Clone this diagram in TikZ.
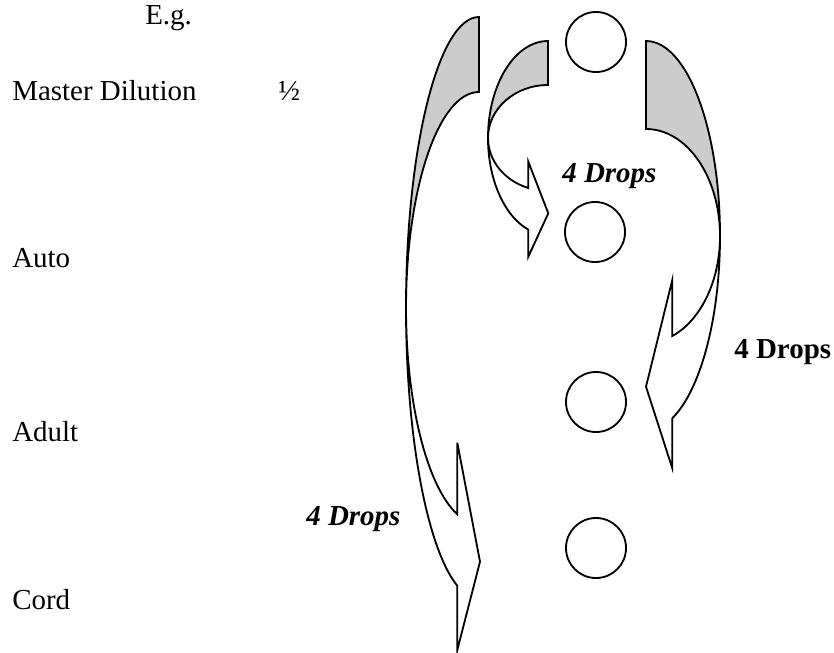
\documentclass[tikz,border=0pt]{standalone}
\usepackage{fontspec}
\setmainfont{Liberation Serif}

\begin{document}
\begin{tikzpicture}[x=0.025cm, y=-0.025cm, font=\fontsize{20.6}{24}\selectfont,
	word/.style={anchor=base west, inner sep=0pt},
	drops/.style={word, font=\fontsize{20.6}{24}\selectfont\bfseries\itshape},
	dish/.style={circle, draw, line width=1.3pt, minimum size=1.5cm, inner sep=0pt},
	band/.style={line width=1.3pt},
	back/.style={band, fill=black!20}]
	\useasboundingbox (0,0) rectangle (834,652);
	\node[word] (eg) at (145,24) {E.g.};
	\node[word] (master) at (12,100) {Master Dilution};
	\node[word] (half) at (278,100) {½};
	\node[word] (auto) at (12,267) {Auto};
	\node[word] (adult) at (12,441) {Adult};
	\node[word] (cord) at (12,609) {Cord};
	\node[dish] (d1) at (596,42) {};
	\node[dish] (d2) at (595,232) {};
	\node[dish] (d3) at (596,402) {};
	\node[dish] (d4) at (596,548) {};
	\draw[back] (548,41) arc[start angle=270, end angle=180, x radius=60, y radius=97] arc[start angle=180, end angle=270, x radius=60, y radius=53] -- cycle;
	\draw[band] (488,138) arc[start angle=180, end angle=109.2, x radius=60, y radius=97] -- (528.3,256.7) -- (548.3,213.3) -- (528.3,161.7) -- (528.3,188) arc[start angle=109.2, end angle=180, x radius=60, y radius=53];
	\draw[back] (646,41) arc[start angle=-90, end angle=0, x radius=74, y radius=195] arc[start angle=0, end angle=-90, x radius=74, y radius=107] -- cycle;
	\draw[band] (720,236) arc[start angle=0, end angle=69.2, x radius=74, y radius=195] -- (672.3,468.3) -- (646,386.7) -- (672.3,280) -- (672.3,336) arc[start angle=69.2, end angle=0, x radius=74, y radius=107];
	\draw[back] (479,17) arc[start angle=270, end angle=180, x radius=73, y radius=291] arc[start angle=180, end angle=270, x radius=73, y radius=216] -- cycle;
	\draw[band] (406,308) arc[start angle=180, end angle=107.3, x radius=73, y radius=291] -- (457.3,650) -- (480,561.7) -- (457.3,442.7) -- (457.3,514.3) arc[start angle=107.3, end angle=180, x radius=73, y radius=216];
	\node[drops] (drops1) at (562,182) {4 Drops};
	\node[word, font=\fontsize{20.6}{24}\selectfont\bfseries] (drops2) at (734,358) {4 Drops};
	\node[drops] (drops3) at (306,525) {4 Drops};
\end{tikzpicture}
\end{document}
